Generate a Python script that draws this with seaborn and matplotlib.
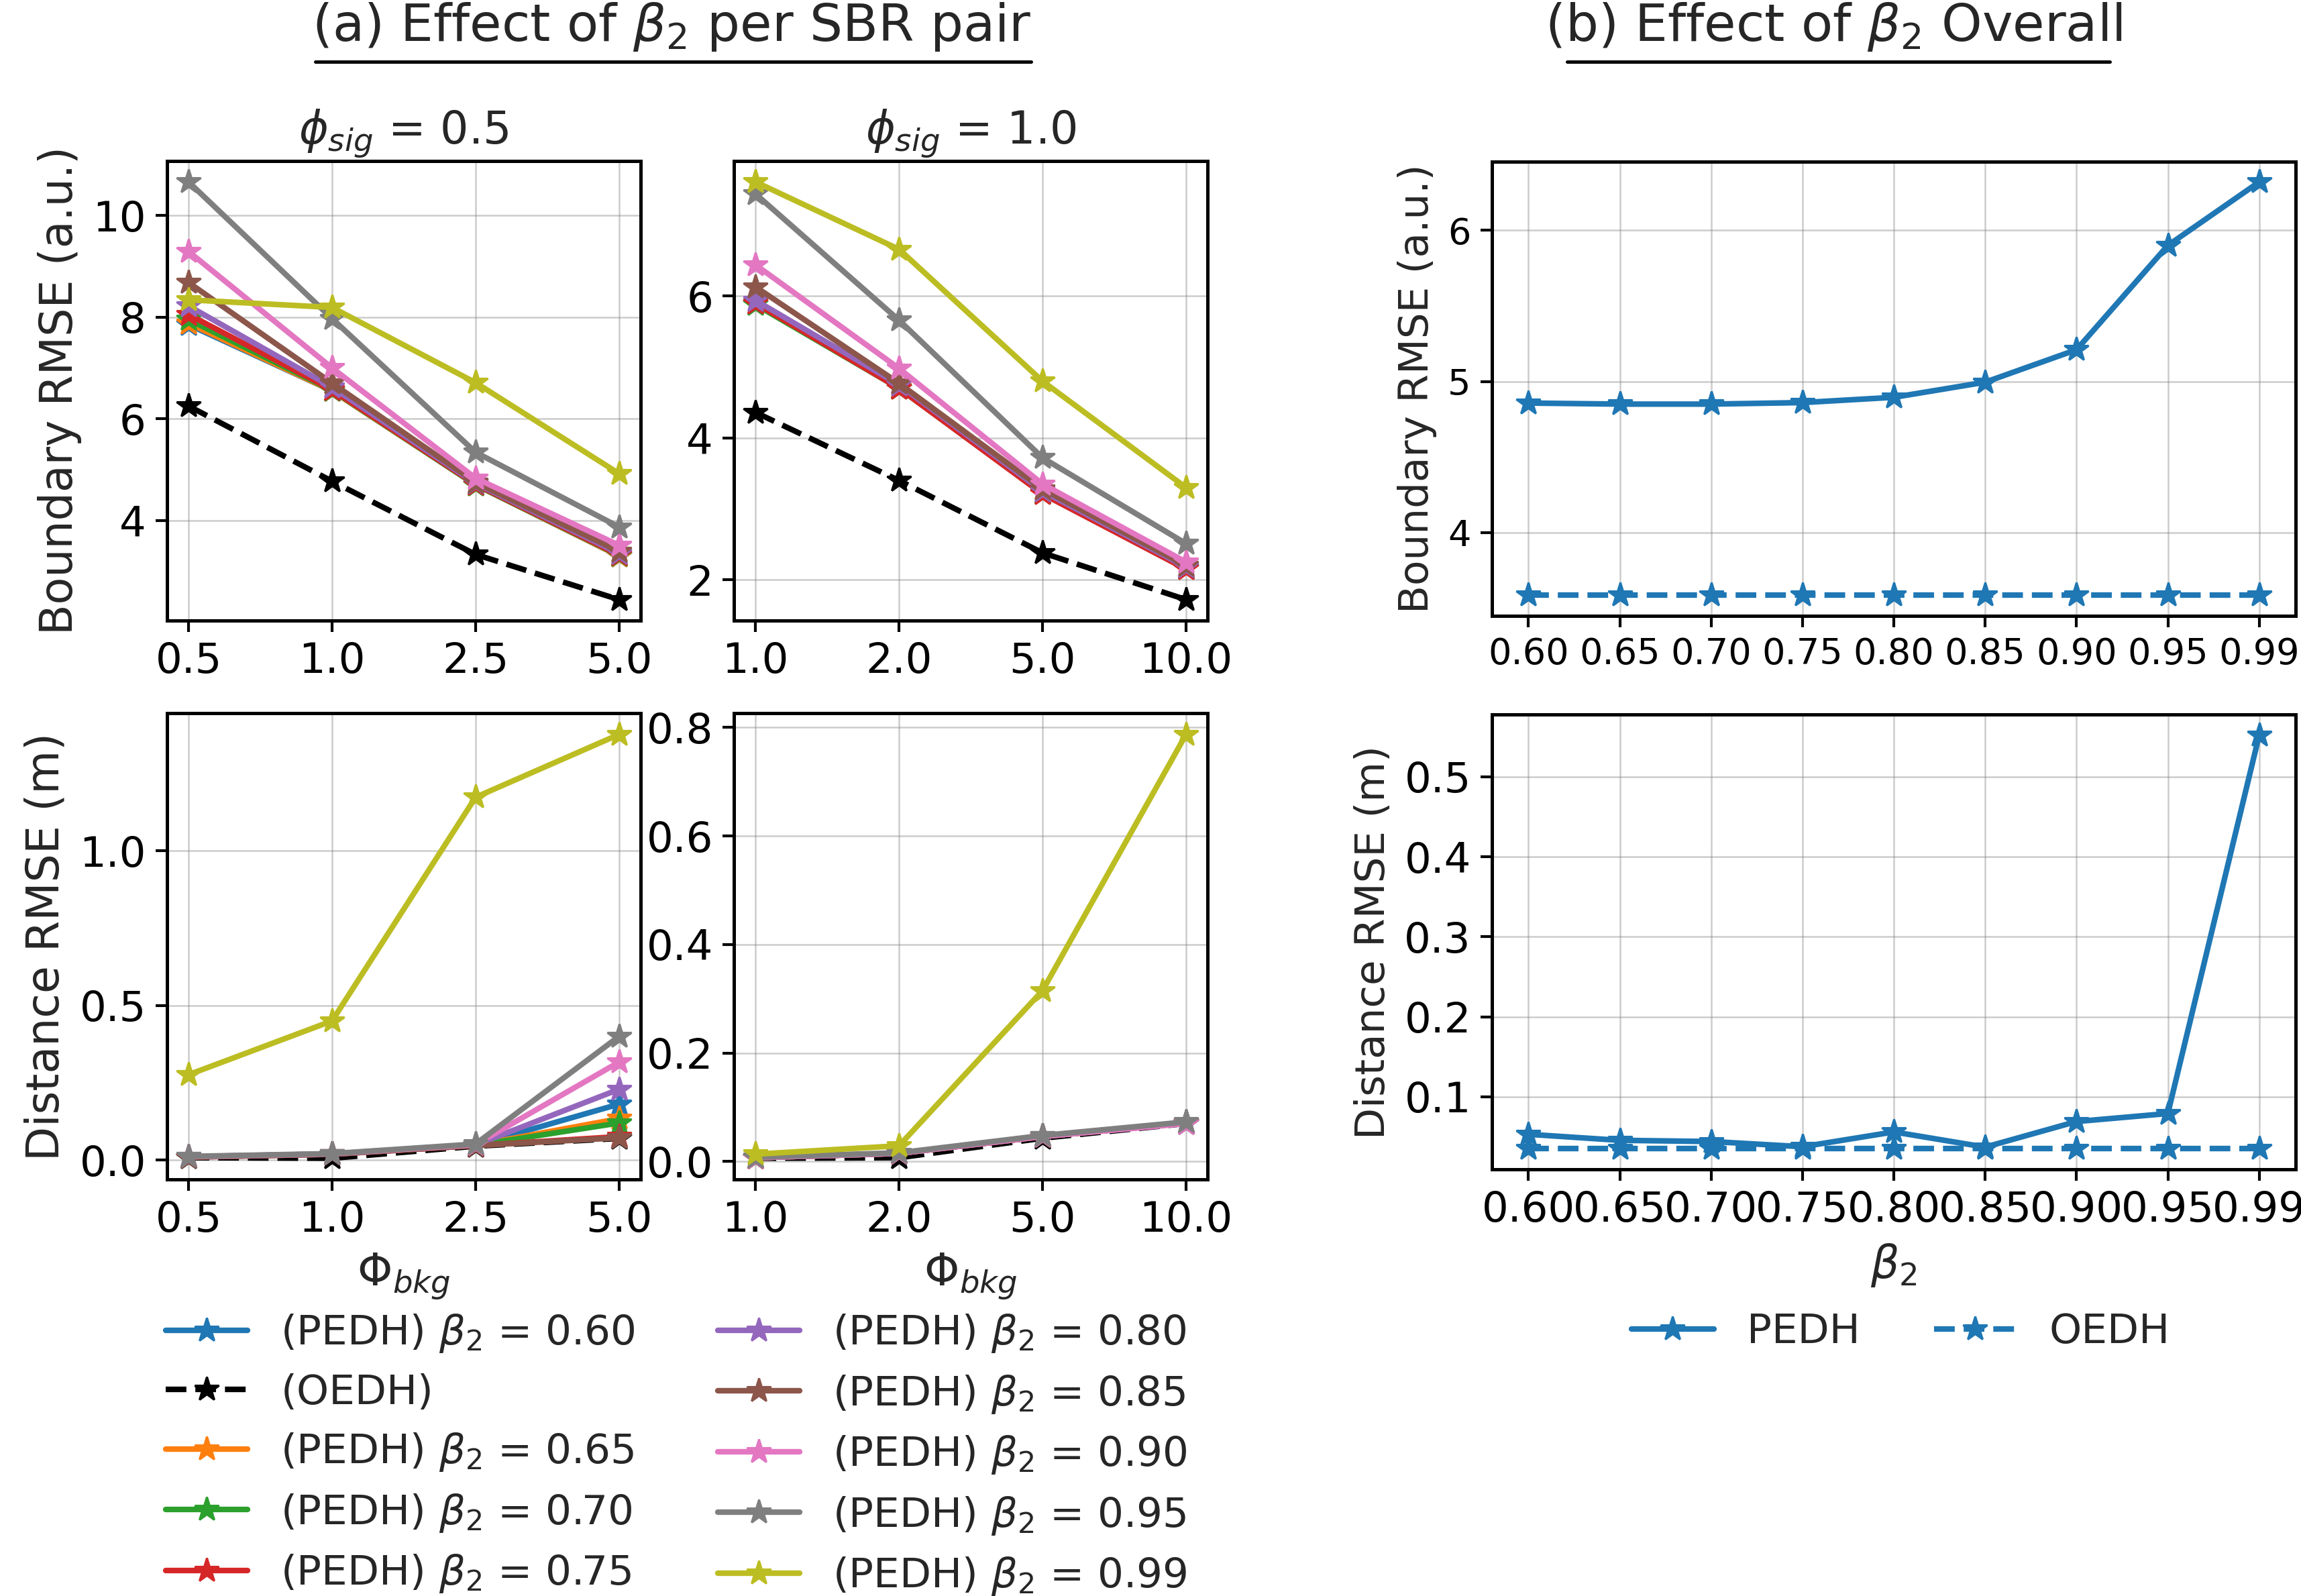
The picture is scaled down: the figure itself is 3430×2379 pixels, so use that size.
import numpy as np
import pandas as pd
import matplotlib
matplotlib.use("Agg")
import matplotlib.pyplot as plt
from matplotlib.lines import Line2D
from matplotlib.ticker import FixedLocator, FormatStrFormatter
import seaborn as sns

# ---- data ----
x_sig05 = ["0.5", "1.0", "2.5", "5.0"]
x_sig10 = ["1.0", "2.0", "5.0", "10.0"]
betas = ["0.60", "0.65", "0.70", "0.75", "0.80", "0.85", "0.90", "0.95", "0.99"]

# Boundary RMSE, phi_sig = 0.5
bnd05 = {
    "0.60": [7.85, 6.55, 4.70, 3.30],
    "0.65": [7.88, 6.55, 4.70, 3.30],
    "0.70": [7.95, 6.56, 4.70, 3.31],
    "0.75": [8.05, 6.57, 4.71, 3.32],
    "0.80": [8.22, 6.62, 4.73, 3.35],
    "0.85": [8.68, 6.70, 4.75, 3.39],
    "0.90": [9.29, 7.00, 4.83, 3.51],
    "0.95": [10.66, 7.97, 5.34, 3.87],
    "0.99": [8.34, 8.19, 6.71, 4.92],
}
bnd05_oedh = [6.25, 4.77, 3.33, 2.44]

# Boundary RMSE, phi_sig = 1.0
bnd10 = {
    "0.60": [5.90, 4.71, 3.22, 2.16],
    "0.65": [5.89, 4.71, 3.22, 2.16],
    "0.70": [5.88, 4.70, 3.22, 2.16],
    "0.75": [5.90, 4.70, 3.21, 2.15],
    "0.80": [5.94, 4.75, 3.25, 2.18],
    "0.85": [6.13, 4.77, 3.28, 2.20],
    "0.90": [6.44, 4.98, 3.35, 2.25],
    "0.95": [7.44, 5.66, 3.72, 2.51],
    "0.99": [7.61, 6.66, 4.80, 3.30],
}
bnd10_oedh = [4.36, 3.40, 2.38, 1.72]

# Distance RMSE, phi_sig = 0.5
dst05 = {
    "0.60": [0.010, 0.020, 0.048, 0.181],
    "0.65": [0.010, 0.020, 0.048, 0.134],
    "0.70": [0.010, 0.019, 0.048, 0.120],
    "0.75": [0.010, 0.019, 0.047, 0.076],
    "0.80": [0.011, 0.020, 0.049, 0.229],
    "0.85": [0.010, 0.019, 0.047, 0.072],
    "0.90": [0.011, 0.020, 0.050, 0.317],
    "0.95": [0.012, 0.021, 0.052, 0.400],
    "0.99": [0.276, 0.450, 1.173, 1.376],
}
dst05_oedh = [0.008, 0.006, 0.045, 0.070]

# Distance RMSE, phi_sig = 1.0
dst10 = {
    "0.60": [0.007, 0.015, 0.047, 0.072],
    "0.65": [0.007, 0.015, 0.047, 0.072],
    "0.70": [0.007, 0.015, 0.046, 0.071],
    "0.75": [0.007, 0.015, 0.046, 0.071],
    "0.80": [0.007, 0.015, 0.047, 0.072],
    "0.85": [0.007, 0.015, 0.046, 0.071],
    "0.90": [0.007, 0.015, 0.046, 0.070],
    "0.95": [0.008, 0.016, 0.048, 0.073],
    "0.99": [0.0135, 0.029, 0.315, 0.787],
}
dst10_oedh = [0.006, 0.007, 0.043, 0.070]

# Overall vs beta_2
overall_bnd_pedh = [4.857, 4.850, 4.850, 4.860, 4.895, 4.995, 5.210, 5.900, 6.320]
overall_bnd_oedh = [3.587] * 9
overall_dst_pedh = [0.053, 0.0455, 0.044, 0.0375, 0.056, 0.037, 0.069, 0.079, 0.552]
overall_dst_oedh = [0.035] * 9

palette = dict(zip(betas, sns.color_palette("tab10", 9)))

# ---- styling ----
sns.set_style("ticks")
plt.rcParams["font.family"] = ["DejaVu Sans"]
plt.rcParams["mathtext.fontset"] = "dejavusans"

LW = 2.0
MS = 9

fig = plt.figure(figsize=(3430 / 300, 2379 / 300), dpi=300)

ax_tl = fig.add_axes([0.0726, 0.6112, 0.2058, 0.2879])
ax_tm = fig.add_axes([0.3190, 0.6112, 0.2058, 0.2879])
ax_bl = fig.add_axes([0.0726, 0.2610, 0.2058, 0.2921])
ax_bm = fig.add_axes([0.3190, 0.2610, 0.2058, 0.2921])
ax_rt = fig.add_axes([0.6484, 0.6143, 0.3493, 0.2846])
ax_rb = fig.add_axes([0.6484, 0.2673, 0.3493, 0.2850])


def line(ax, xcats, vals, color, label, ls="-"):
    sns.lineplot(x=xcats, y=vals, ax=ax, sort=False, color=color, marker="*",
                 markersize=MS, markeredgecolor=color, lw=LW, linestyle=ls,
                 label=label)


def draw_panel(ax, xcats, pedh, oedh):
    # PEDH 0.60 first, then OEDH, then the rest (legend order of the reference)
    for b in betas:
        line(ax, xcats, pedh[b], palette[b], r"(PEDH) $\beta_2$ = " + b)
        if b == "0.60":
            line(ax, xcats, oedh, "black", "(OEDH)", ls="--")


draw_panel(ax_tl, x_sig05, bnd05, bnd05_oedh)
draw_panel(ax_tm, x_sig10, bnd10, bnd10_oedh)
draw_panel(ax_bl, x_sig05, dst05, dst05_oedh)
draw_panel(ax_bm, x_sig10, dst10, dst10_oedh)

line(ax_rt, betas, overall_bnd_pedh, "tab:blue", "PEDH")
line(ax_rt, betas, overall_bnd_oedh, "tab:blue", "OEDH", ls="--")
line(ax_rb, betas, overall_dst_pedh, "tab:blue", "PEDH")
line(ax_rb, betas, overall_dst_oedh, "tab:blue", "OEDH", ls="--")

# ticks / grid / labels
for ax in [ax_tl, ax_tm, ax_bl, ax_bm, ax_rt, ax_rb]:
    ax.grid(True, color="0.5", alpha=0.4, lw=0.6)
    for s in ax.spines.values():
        s.set_linewidth(1.2)
        s.set_color("black")
    ax.tick_params(axis="both", labelsize=15, width=1.0, length=4, colors="black")
    ax.set_xlabel("")
    ax.set_ylabel("")

ax_rt.tick_params(axis="both", labelsize=13)

ax_tl.yaxis.set_major_locator(FixedLocator([4, 6, 8, 10]))
ax_tm.yaxis.set_major_locator(FixedLocator([2, 4, 6]))
ax_bl.yaxis.set_major_locator(FixedLocator([0.0, 0.5, 1.0]))
ax_bm.yaxis.set_major_locator(FixedLocator([0.0, 0.2, 0.4, 0.6, 0.8]))
ax_rt.yaxis.set_major_locator(FixedLocator([4, 5, 6]))
ax_rb.yaxis.set_major_locator(FixedLocator([0.1, 0.2, 0.3, 0.4, 0.5]))
for ax in [ax_bl, ax_bm, ax_rb]:
    ax.yaxis.set_major_formatter(FormatStrFormatter("%.1f"))

ax_tl.set_title(r"$\phi_{sig}$ = 0.5", fontsize=16)
ax_tm.set_title(r"$\phi_{sig}$ = 1.0", fontsize=16)
ax_tl.set_ylabel("Boundary RMSE (a.u.)", fontsize=16)
ax_bl.set_ylabel("Distance RMSE (m)", fontsize=16)
ax_bl.set_xlabel(r"$\Phi_{bkg}$", fontsize=16)
ax_bm.set_xlabel(r"$\Phi_{bkg}$", fontsize=16)
ax_rt.set_ylabel("Boundary RMSE (a.u.)", fontsize=14.7)
ax_rb.set_ylabel("Distance RMSE (m)", fontsize=14.7)
ax_rb.set_xlabel(r"$\beta_2$", fontsize=16)

# legends
handles, labels = ax_tl.get_legend_handles_labels()
right_h, right_l = ax_rt.get_legend_handles_labels()
for ax in [ax_tl, ax_tm, ax_bl, ax_bm, ax_rt, ax_rb]:
    if ax.get_legend() is not None:
        ax.get_legend().remove()

fig.legend(handles, labels, loc="upper center", bbox_to_anchor=(0.294, 0.201),
           ncol=2, frameon=False, fontsize=14.7, columnspacing=2.0,
           handlelength=2.0, labelspacing=0.45)
fig.legend(right_h, right_l, loc="upper center", bbox_to_anchor=(0.826, 0.201),
           ncol=2, frameon=False, fontsize=14.7, columnspacing=1.8,
           handlelength=2.0)

# section titles with underline
fig.text(0.292, 0.983, r"(a) Effect of $\beta_2$ per SBR pair", ha="center",
         va="center", fontsize=18.5)
fig.add_artist(Line2D([0.137, 0.448], [0.9614, 0.9614], color="black", lw=1.2))
fig.text(0.797, 0.983, r"(b) Effect of $\beta_2$ Overall", ha="center",
         va="center", fontsize=18.5)
fig.add_artist(Line2D([0.681, 0.917], [0.9614, 0.9614], color="black", lw=1.2))

fig.savefig("out.png", dpi=300)
